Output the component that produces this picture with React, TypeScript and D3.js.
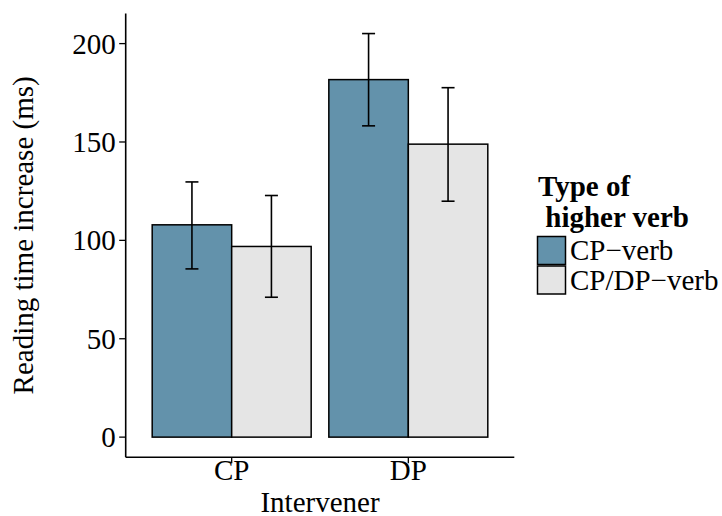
import React from 'react';
import * as d3 from 'd3';

const categories = ['CP', 'DP'];
const seriesNames = ['CP\u2212verb', 'CP/DP\u2212verb'];
const cpVerbMean = [107.9, 181.7];
const cpVerbLow = [85.5, 158.2];
const cpVerbHigh = [129.7, 205.1];
const cpdpVerbMean = [96.9, 148.9];
const cpdpVerbLow = [71.1, 119.9];
const cpdpVerbHigh = [122.8, 177.6];
const yTicks = [0, 50, 100, 150, 200];
const colors = ['#6392ab', '#e5e5e5'];

const FONT = '"Liberation Serif", "Times New Roman", serif';

export default function App() {
  const left = 125.7, right = 514.3, top = 13.4, bottom = 457.3;
  const x = d3.scaleLinear().domain([0.4, categories.length + 0.6]).range([left, right]);
  const dodge = d3.scaleBand<string>().domain(seriesNames).range([-0.45, 0.45]);
  const y = d3.scaleLinear().domain([-10.25, 215.35]).range([bottom, top]);

  const seriesData = [
    { name: seriesNames[0], mean: cpVerbMean, low: cpVerbLow, high: cpVerbHigh, color: colors[0] },
    { name: seriesNames[1], mean: cpdpVerbMean, low: cpdpVerbLow, high: cpdpVerbHigh, color: colors[1] },
  ];
  const capHalf = 6.5;
  const fs = 29;

  return (
    <svg width={722} height={516} style={{ position: 'fixed', left: 0, top: 0, background: '#fff' }} fontFamily={FONT}>
      <rect x={0} y={0} width={722} height={516} fill="#fff" />
      {seriesData.map((s) =>
        categories.map((c, i) => {
          const x0 = x(i + 1 + (dodge(s.name) as number));
          const x1 = x(i + 1 + (dodge(s.name) as number) + dodge.bandwidth());
          return (
            <rect key={s.name + c} x={x0} y={y(s.mean[i])} width={x1 - x0} height={y(0) - y(s.mean[i])}
              fill={s.color} stroke="#000" strokeWidth={1.5} />
          );
        })
      )}
      {seriesData.map((s) =>
        categories.map((c, i) => {
          const cx = x(i + 1 + (dodge(s.name) as number) + dodge.bandwidth() / 2);
          return (
            <g key={'e' + s.name + c} stroke="#000" strokeWidth={1.6}>
              <line x1={cx} x2={cx} y1={y(s.low[i])} y2={y(s.high[i])} />
              <line x1={cx - capHalf} x2={cx + capHalf} y1={y(s.low[i])} y2={y(s.low[i])} />
              <line x1={cx - capHalf} x2={cx + capHalf} y1={y(s.high[i])} y2={y(s.high[i])} />
            </g>
          );
        })
      )}
      {/* axes */}
      <line x1={left} x2={left} y1={top} y2={bottom} stroke="#000" strokeWidth={1.6} />
      <line x1={left} x2={right} y1={bottom} y2={bottom} stroke="#000" strokeWidth={1.6} />
      {yTicks.map((t) => (
        <g key={'y' + t}>
          <line x1={left - 6.5} x2={left} y1={y(t)} y2={y(t)} stroke="#000" strokeWidth={1.3} />
          <text x={left - 10} y={y(t)} dy={10} textAnchor="end" fontSize={fs} fill="#000">{t}</text>
        </g>
      ))}
      {categories.map((c, i) => (
        <g key={'x' + c}>
          <line x1={x(i + 1)} x2={x(i + 1)} y1={bottom} y2={bottom + 6} stroke="#000" strokeWidth={1.3} />
          <text x={x(i + 1)} y={479.5} textAnchor="middle" fontSize={fs} fill="#000">{c}</text>
        </g>
      ))}
      <text x={(left + right) / 2} y={511.5} textAnchor="middle" fontSize={fs} fill="#000">Intervener</text>
      <text transform={`translate(33,${(top + bottom) / 2}) rotate(-90)`} textAnchor="middle" fontSize={fs} fill="#000">
        Reading time increase (ms)
      </text>
      {/* legend */}
      <text x={538} y={196} fontSize={fs} fontWeight="bold" fill="#000">Type of</text>
      <text x={538} y={226.7} fontSize={fs} fontWeight="bold" fill="#000" style={{ whiteSpace: 'pre' }}>{' higher verb'}</text>
      {seriesData.map((s, i) => (
        <g key={'l' + s.name}>
          <rect x={537.5} y={236.5 + i * 29.5} width={28} height={28} fill={s.color} stroke="#000" strokeWidth={1.5} />
          <text x={570} y={260 + i * 30} fontSize={fs} fill="#000">{s.name}</text>
        </g>
      ))}
    </svg>
  );
}
